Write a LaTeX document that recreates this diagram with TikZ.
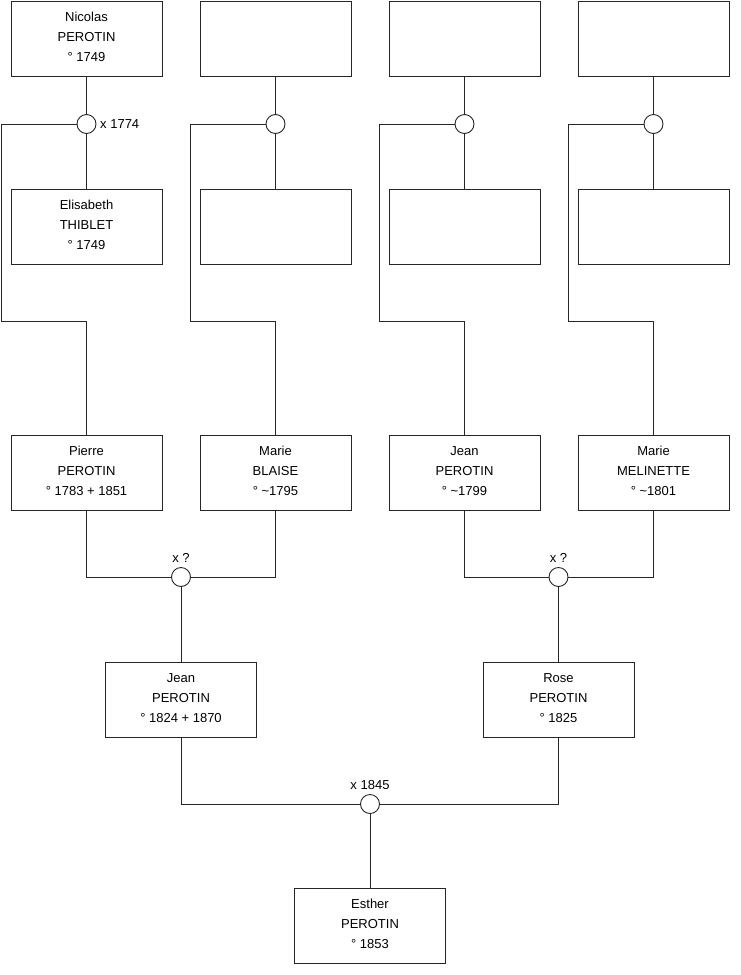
\documentclass[tikz,border=0pt]{standalone}
\usepackage{fontspec}
\setmainfont{Liberation Sans}
\newcommand{\ptxt}[3]{\strut #1\\#2\\#3\strut}
\begin{document}
\begin{tikzpicture}[x=1pt,y=-1pt,
  person/.style={draw=black!85, line width=0.9pt, fill=white, minimum width=151pt, minimum height=75pt,
    inner sep=0pt},
  ptext/.style={align=center, font=\fontsize{13}{20}\selectfont, inner sep=0pt, yshift=1.5pt},
  wed/.style={draw=black!85, line width=0.9pt, fill=white, circle, minimum size=19pt, inner sep=0pt},
  lbl/.style={font=\fontsize{13}{16}\selectfont, inner sep=0pt},
  link/.style={draw=black!85, line width=0.9pt}]
\useasboundingbox (0,0) rectangle (740,975);
% row 1
\node[person, label={[ptext]center:\ptxt{Nicolas}{PEROTIN}{° 1749}}] (n1) at (86.5,38.5) {};
\node[person] (n2) at (275.5,38.5) {};
\node[person] (n3) at (464.5,38.5) {};
\node[person] (n4) at (653.5,38.5) {};
% marriage circles row 1
\node[wed] (m1) at (86.5,124) {};
\node[wed] (m2) at (275.5,124) {};
\node[wed] (m3) at (464.5,124) {};
\node[wed] (m4) at (653.5,124) {};
\node[lbl, anchor=west] (l1) at (100,124) {x 1774};
% row 2
\node[person, label={[ptext]center:\ptxt{Elisabeth}{THIBLET}{° 1749}}] (e1) at (86.5,227) {};
\node[person] (e2) at (275.5,227) {};
\node[person] (e3) at (464.5,227) {};
\node[person] (e4) at (653.5,227) {};
% row 3
\node[person, label={[ptext]center:\ptxt{Pierre}{PEROTIN}{° 1783 + 1851}}] (p1) at (86.5,472.5) {};
\node[person, label={[ptext]center:\ptxt{Marie}{BLAISE}{° \textasciitilde1795}}] (p2) at (275.5,472.5) {};
\node[person, label={[ptext]center:\ptxt{Jean}{PEROTIN}{° \textasciitilde1799}}] (p3) at (464.5,472.5) {};
\node[person, label={[ptext]center:\ptxt{Marie}{MELINETTE}{° \textasciitilde1801}}] (p4) at (653.5,472.5) {};
% coordinates for bends
\coordinate (a1) at (1,321);
\coordinate (a2) at (190,321);
\coordinate (a3) at (379,321);
\coordinate (a4) at (568,321);
% marriages row 3
\node[wed] (w1) at (181,577) {};
\node[wed] (w2) at (558.5,577) {};
\node[lbl] (lw1) at (181,558) {x ?};
\node[lbl] (lw2) at (558.5,558) {x ?};
% row 4
\node[person, label={[ptext]center:\ptxt{Jean}{PEROTIN}{° 1824 + 1870}}] (j1) at (181,699.5) {};
\node[person, label={[ptext]center:\ptxt{Rose}{PEROTIN}{° 1825}}] (r1) at (558.5,699.5) {};
% final marriage
\node[wed] (w3) at (370,804) {};
\node[lbl] (lw3) at (370,785) {x 1845};
% row 5
\node[person, label={[ptext]center:\ptxt{Esther}{PEROTIN}{° 1853}}] (es) at (370,925.5) {};
% links
\foreach \i in {1,2,3,4}{
  \draw[link] (n\i.south) -- (m\i.north);
  \draw[link] (m\i.south) -- (e\i.north);
  \draw[link] (m\i.west) -| (a\i) -| (p\i.north);
}
\draw[link] (p1.south) |- (w1.west);
\draw[link] (p2.south) |- (w1.east);
\draw[link] (w1.south) -- (j1.north);
\draw[link] (p3.south) |- (w2.west);
\draw[link] (p4.south) |- (w2.east);
\draw[link] (w2.south) -- (r1.north);
\draw[link] (j1.south) |- (w3.west);
\draw[link] (r1.south) |- (w3.east);
\draw[link] (w3.south) -- (es.north);
\end{tikzpicture}
\end{document}
